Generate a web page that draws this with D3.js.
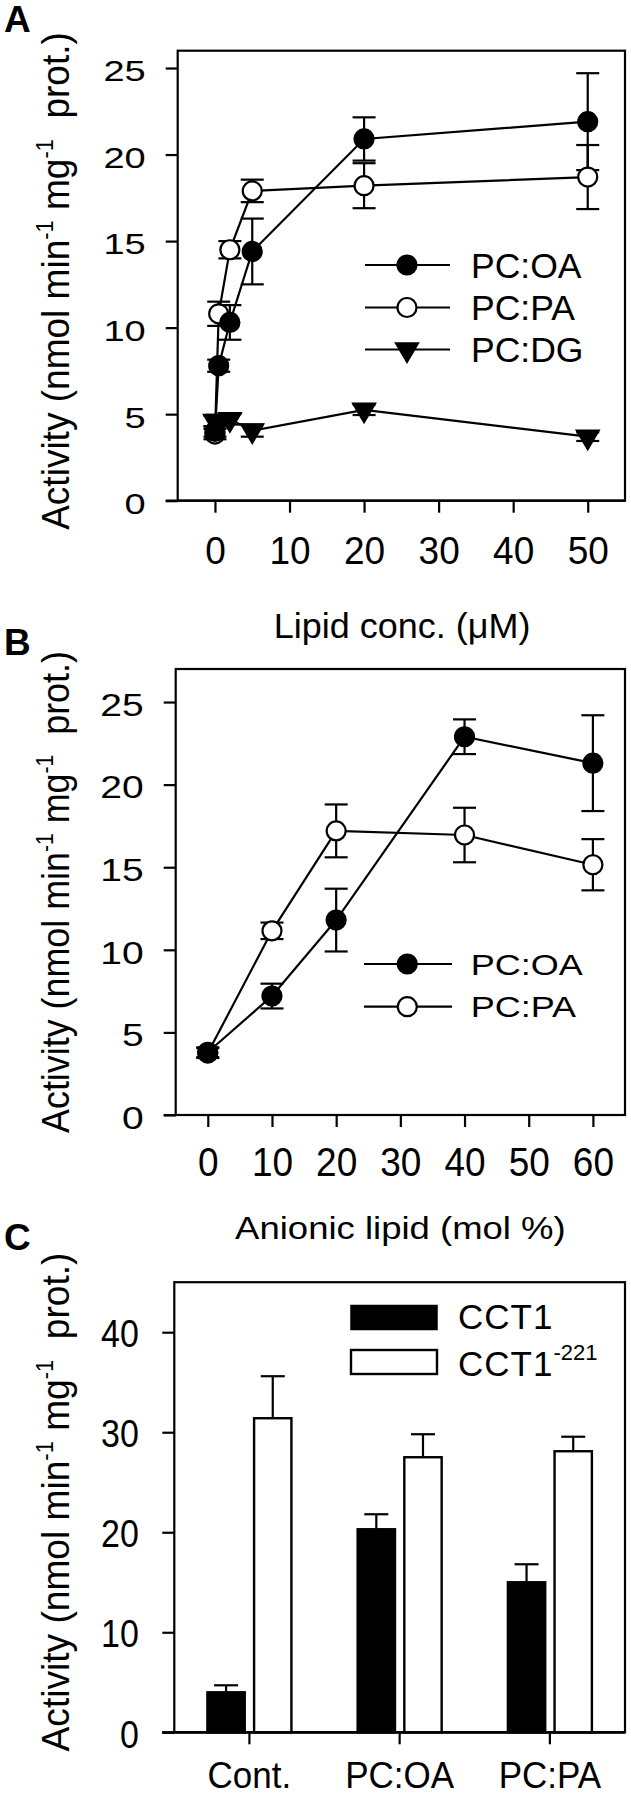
<!DOCTYPE html>
<html>
<head>
<meta charset="utf-8">
<script src="https://cdn.jsdelivr.net/npm/d3@7"></script>
<style>
  html, body { margin: 0; padding: 0; background: #fff; }
  svg { display: block; font-family: "Liberation Sans", Arial, sans-serif; }
</style>
</head>
<body>
<svg id="chart" width="631" height="1798"></svg>
<script>
// ---------------- DATA ----------------
// Panel A: lipid concentration (µM)
const aX = [0, 0.5, 2, 5, 20, 50];
const aOA = [4.0, 7.8, 10.3, 14.4, 20.9, 21.9];
const aOAerr = [0.3, 0.35, 1.0, 1.9, 1.25, 2.8];
const aPA = [3.85, 10.8, 14.5, 17.9, 18.2, 18.7];
const aPAerr = [0.3, 0.7, 0.5, 0.65, 1.3, 1.85];
const aDG = [4.6, 4.6, 4.7, 4.05, 5.25, 3.7];
const aDGerr = [0.3, 0.3, 0.3, 0.35, 0.3, 0.25];
const aXTicks = [0, 10, 20, 30, 40, 50];
const aYTicks = [0, 5, 10, 15, 20, 25];

// Panel B: anionic lipid (mol %)
const bX = [0, 10, 20, 40, 60];
const bOA = [3.8, 7.2, 11.8, 22.9, 21.3];
const bOAerr = [0.3, 0.75, 1.9, 1.05, 2.9];
const bPA = [3.75, 11.15, 17.2, 16.95, 15.15];
const bPAerr = [0.3, 0.5, 1.6, 1.65, 1.55];
const bXTicks = [0, 10, 20, 30, 40, 50, 60];
const bYTicks = [0, 5, 10, 15, 20, 25];

// Panel C: bars
const cCats = ["Cont.", "PC:OA", "PC:PA"];
const cSeries = ["CCT1", "CCT1-221"];
const cCCT1 = [4.0, 20.3, 15.0];
const cCCT1err = [0.7, 1.5, 1.8];
const cCCT221 = [31.4, 27.5, 28.1];
const cCCT221err = [4.2, 2.3, 1.45];
const cYTicks = [0, 10, 20, 30, 40];

const legendA = ["PC:OA", "PC:PA", "PC:DG"];
const legendB = ["PC:OA", "PC:PA"];

// ---------------- DRAW ----------------
const svg = d3.select("#chart");
svg.append("rect").attr("width", 631).attr("height", 1798).attr("fill", "#fff");
const SW = 2.2;
const TICK = 12;

function drawFrame(b) {
  svg.append("rect")
    .attr("x", b.x0).attr("y", b.y0)
    .attr("width", b.x1 - b.x0).attr("height", b.y1 - b.y0)
    .attr("fill", "none").attr("stroke", "#000").attr("stroke-width", SW);
  svg.append("line")
    .attr("x1", b.x0 - TICK).attr("x2", b.x1)
    .attr("y1", b.y1).attr("y2", b.y1)
    .attr("stroke", "#000").attr("stroke-width", SW);
}

function drawYAxis(b, y, ticks, st) {
  const g = svg.append("g").attr("transform", `translate(${b.x0},0)`)
    .call(d3.axisLeft(y).tickValues(ticks).tickSize(TICK).tickSizeOuter(0).tickPadding(st.gap));
  g.select(".domain").remove();
  g.selectAll(".tick line").attr("stroke", "#000").attr("stroke-width", SW);
  g.selectAll(".tick text")
    .attr("font-family", '"Liberation Sans", Arial, sans-serif')
    .attr("font-size", st.size).attr("fill", "#000")
    .attr("dy", "0.36em")
    .attr("transform", `translate(0,${st.dy}) scale(1,${st.sy})`);
}

function drawXAxis(b, x, ticks, st) {
  const g = svg.append("g").attr("transform", `translate(0,${b.y1})`)
    .call(d3.axisBottom(x).tickValues(ticks).tickSize(TICK).tickSizeOuter(0));
  g.select(".domain").remove();
  g.selectAll(".tick line").attr("stroke", "#000").attr("stroke-width", SW);
  g.selectAll(".tick text")
    .attr("font-family", '"Liberation Sans", Arial, sans-serif')
    .attr("font-size", st.size).attr("fill", "#000")
    .attr("y", 0).attr("dy", null)
    .attr("transform", `translate(0,${st.base}) scale(1,${st.sy})`);
}

function yTitle(cx, cy, len) {
  const t = svg.append("text")
    .attr("font-size", 39).attr("text-anchor", "middle").attr("fill", "#000")
    .attr("xml:space", "preserve");
  t.append("tspan").text("Activity (nmol min");
  t.append("tspan").attr("font-size", 23).attr("dy", -16).text("-1");
  t.append("tspan").attr("dy", 16).text(" mg");
  t.append("tspan").attr("font-size", 23).attr("dy", -16).text("-1");
  t.append("tspan").attr("dy", 16).text("  prot.)");
  const nat = t.node().getComputedTextLength();
  t.attr("transform", `translate(${cx},${cy}) rotate(-90) scale(${len / nat},1)`);
}

function xTitle(cx, base, txt, size, sy) {
  svg.append("text")
    .attr("font-size", size).attr("text-anchor", "middle").attr("fill", "#000")
    .attr("transform", `translate(${cx},${base}) scale(1,${sy})`)
    .text(txt);
}

function panelLabel(x, base, txt) {
  svg.append("text").attr("x", x).attr("y", base)
    .attr("font-size", 37).attr("font-weight", "bold").attr("fill", "#000")
    .text(txt);
}

const triPath = "M-11.5,-6.5 L11.5,-6.5 L0,13 Z";

function drawMarker(g, px, py, kind) {
  if (kind === "tri") {
    g.append("path").attr("d", triPath)
      .attr("transform", `translate(${px},${py})`)
      .attr("fill", "#000").attr("stroke", "#000").attr("stroke-width", 1.5);
  } else {
    g.append("circle").attr("cx", px).attr("cy", py).attr("r", 9.5)
      .attr("fill", kind === "filled" ? "#000" : "#fff")
      .attr("stroke", "#000").attr("stroke-width", 2.2);
  }
}

function drawSeries(x, y, xs, ys, errs, kind, layers) {
  const line = d3.line().x((d, i) => x(xs[i])).y(d => y(d));
  layers.lines.append("path").datum(ys).attr("d", line)
    .attr("fill", "none").attr("stroke", "#000").attr("stroke-width", 2.2);
  ys.forEach((v, i) => {
    const px = x(xs[i]);
    const hi = y(v + errs[i]), lo = y(v - errs[i]);
    layers.err.append("line").attr("x1", px).attr("x2", px).attr("y1", hi).attr("y2", lo)
      .attr("stroke", "#000").attr("stroke-width", 2.2);
    [hi, lo].forEach(yy => layers.err.append("line")
      .attr("x1", px - 11.5).attr("x2", px + 11.5).attr("y1", yy).attr("y2", yy)
      .attr("stroke", "#000").attr("stroke-width", 2.2));
    drawMarker(layers.marks, px, y(v), kind);
  });
}

function drawLegendLines(items, kinds, x1, x2, xm, xt, rows, size, sy) {
  items.forEach((name, i) => {
    const ry = rows[i];
    svg.append("line").attr("x1", x1).attr("x2", x2).attr("y1", ry).attr("y2", ry)
      .attr("stroke", "#000").attr("stroke-width", 2.2);
    drawMarker(svg, xm, ry, kinds[i]);
    svg.append("text").attr("font-size", size).attr("fill", "#000")
      .attr("dy", "0.36em")
      .attr("transform", `translate(${xt},${ry}) scale(1,${sy})`)
      .text(name);
  });
}

// ---------- Panel A ----------
{
  const b = { x0: 177.7, x1: 625, y0: 50.7, y1: 500.7 };
  const x = d3.scaleLinear().domain([-5, 55]).range([b.x0, b.x1]);
  const y = d3.scaleLinear().domain([0, 26]).range([b.y1, b.y0]);
  drawFrame(b);
  drawYAxis(b, y, aYTicks, { size: 38, sy: 0.76, gap: 20, dy: 2.5 });
  drawXAxis(b, x, aXTicks, { size: 37, sy: 1.03, base: 63.3 });
  const layers = { lines: svg.append("g"), err: svg.append("g"), marks: svg.append("g") };
  drawSeries(x, y, aX, aDG, aDGerr, "tri", layers);
  drawSeries(x, y, aX, aPA, aPAerr, "open", layers);
  drawSeries(x, y, aX, aOA, aOAerr, "filled", layers);
  drawLegendLines(legendA, ["filled", "open", "tri"], 365, 450, 407, 471, [265, 307.5, 349.5], 35.5, 1);
  xTitle(402, 637.5, "Lipid conc. (\u03BCM)", 36, 0.97);
  yTitle(69, 281, 498);
  panelLabel(4, 32, "A");
}

// ---------- Panel B ----------
{
  const b = { x0: 175.7, x1: 625, y0: 669, y1: 1115 };
  const x = d3.scaleLinear().domain([-5, 65]).range([b.x0, b.x1]);
  const y = d3.scaleLinear().domain([0, 27]).range([b.y1, b.y0]);
  drawFrame(b);
  drawYAxis(b, y, bYTicks, { size: 39, sy: 0.8, gap: 20, dy: 2 });
  drawXAxis(b, x, bXTicks, { size: 37, sy: 1.1, base: 61 });
  const layers = { lines: svg.append("g"), err: svg.append("g"), marks: svg.append("g") };
  drawSeries(x, y, bX, bPA, bPAerr, "open", layers);
  drawSeries(x, y, bX, bOA, bOAerr, "filled", layers);
  drawLegendLines(legendB, ["filled", "open"], 364, 452, 407.3, 470.7, [964, 1006.7], 36, 0.82);
  xTitle(400.4, 1239, "Anionic lipid (mol %)", 36.5, 0.86);
  yTitle(69, 892, 482);
  panelLabel(4, 655, "B");
}

// ---------- Panel C ----------
{
  const b = { x0: 174.3, x1: 625, y0: 1282.2, y1: 1732.3 };
  const x = d3.scaleBand().domain(cCats).range([b.x0, b.x1]).padding(0);
  const xi = d3.scaleBand().domain(cSeries).range([-42, 42]).paddingInner(0.2).paddingOuter(0);
  const y = d3.scaleLinear().domain([0, 45]).range([b.y1, b.y0]);
  drawFrame(b);
  drawYAxis(b, y, cYTicks, { size: 34, sy: 1.12, gap: 23.5, dy: 1 });
  const vals = [cCCT1, cCCT221], errs = [cCCT1err, cCCT221err];
  const g = svg.append("g");
  cCats.forEach((cat, ci) => {
    const c = x(cat) + x.bandwidth() / 2;
    cSeries.forEach((s, si) => {
      const v = vals[si][ci], e = errs[si][ci];
      const bx = c + xi(s);
      const bw = xi.bandwidth();
      const cxm = bx + bw / 2;
      g.append("line").attr("x1", cxm).attr("x2", cxm).attr("y1", y(v)).attr("y2", y(v + e))
        .attr("stroke", "#000").attr("stroke-width", 2.2);
      g.append("line").attr("x1", cxm - 12).attr("x2", cxm + 12).attr("y1", y(v + e)).attr("y2", y(v + e))
        .attr("stroke", "#000").attr("stroke-width", 2.2);
      g.append("rect").attr("x", bx).attr("y", y(v)).attr("width", bw).attr("height", y(0) - y(v))
        .attr("fill", si === 0 ? "#000" : "#fff")
        .attr("stroke", "#000").attr("stroke-width", 2.4);
    });
  });
  svg.append("line").attr("x1", b.x0 - TICK).attr("x2", b.x1).attr("y1", b.y1).attr("y2", b.y1)
    .attr("stroke", "#000").attr("stroke-width", SW);
  const xa = svg.append("g").attr("transform", `translate(0,${b.y1})`)
    .call(d3.axisBottom(x).tickSize(TICK).tickSizeOuter(0));
  xa.select(".domain").remove();
  xa.selectAll(".tick line").attr("stroke", "#000").attr("stroke-width", SW);
  xa.selectAll(".tick text")
    .attr("font-family", '"Liberation Sans", Arial, sans-serif')
    .attr("font-size", 35).attr("fill", "#000")
    .attr("y", 0).attr("dy", null)
    .attr("transform", "translate(0,56) scale(1,1.04)");
  // legend
  const lx = 351, lw = 86, lh = 24;
  svg.append("rect").attr("x", lx).attr("y", 1305.5).attr("width", lw).attr("height", lh)
    .attr("fill", "#000").attr("stroke", "#000").attr("stroke-width", 1.5);
  svg.append("rect").attr("x", lx).attr("y", 1350).attr("width", lw).attr("height", lh)
    .attr("fill", "#fff").attr("stroke", "#000").attr("stroke-width", 2.4);
  svg.append("text").attr("x", 458).attr("y", 1328.5).attr("font-size", 35).attr("fill", "#000")
    .attr("letter-spacing", 1).text("CCT1");
  const t2 = svg.append("text").attr("x", 458).attr("y", 1375.5).attr("font-size", 35).attr("fill", "#000")
    .attr("letter-spacing", 1);
  t2.append("tspan").text("CCT1");
  t2.append("tspan").attr("font-size", 22).attr("dy", -16).attr("letter-spacing", 0).text("-221");
  yTitle(69, 1502, 499);
  panelLabel(4, 1250, "C");
}
</script>
</body>
</html>
